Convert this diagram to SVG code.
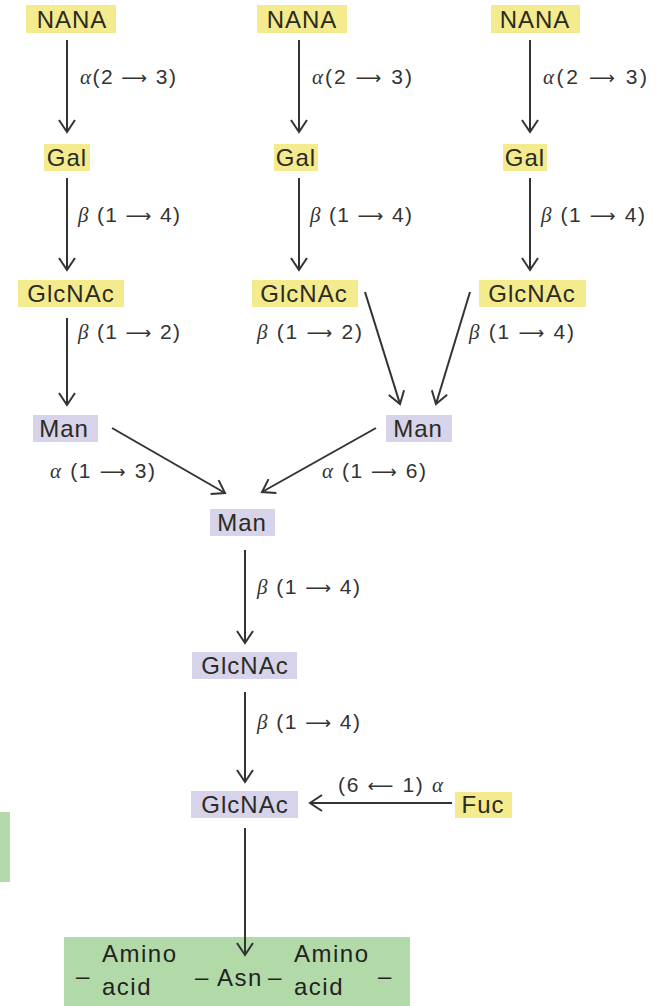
<svg xmlns="http://www.w3.org/2000/svg" width="672" height="1006" viewBox="0 0 672 1006">
<style>
.y{fill:#f4ea8e}
.p{fill:#d7d3ea}
.g{fill:#b2daa9}
.n{font-family:"Liberation Sans",Arial,sans-serif;font-size:24px;fill:#2b2b22;text-anchor:middle;letter-spacing:1px}
.l{font-family:"Liberation Sans",Arial,sans-serif;font-size:21px;fill:#333}
.gr{font-family:"Liberation Serif",serif;font-style:italic}
.ar{font-family:"DejaVu Sans",sans-serif;font-size:18px}
.c{stroke:#333;stroke-width:2;fill:none}
.a{font-family:"Liberation Sans",Arial,sans-serif;font-size:24px;fill:#222;letter-spacing:1.5px}
</style>
<defs>
<marker id="ah" markerUnits="userSpaceOnUse" markerWidth="16" markerHeight="18" refX="13" refY="9" orient="auto" viewBox="0 0 16 18">
<path d="M1,1 L13,9 L1,17" fill="none" stroke="#333" stroke-width="2"/>
</marker>
</defs>
<rect x="0" y="812" width="10" height="70" class="g"/>
<g id="connectors">
<line class="c" x1="67" y1="40" x2="67" y2="132" marker-end="url(#ah)"/>
<line class="c" x1="299" y1="40" x2="299" y2="132" marker-end="url(#ah)"/>
<line class="c" x1="530" y1="40" x2="530" y2="132" marker-end="url(#ah)"/>
<line class="c" x1="67" y1="178" x2="67" y2="270" marker-end="url(#ah)"/>
<line class="c" x1="299" y1="178" x2="299" y2="270" marker-end="url(#ah)"/>
<line class="c" x1="530" y1="178" x2="530" y2="270" marker-end="url(#ah)"/>
<line class="c" x1="67" y1="318" x2="67" y2="405" marker-end="url(#ah)"/>
<line class="c" x1="365" y1="292" x2="400" y2="404" marker-end="url(#ah)"/>
<line class="c" x1="470" y1="292" x2="436" y2="404" marker-end="url(#ah)"/>
<line class="c" x1="112" y1="428" x2="225" y2="493" marker-end="url(#ah)"/>
<line class="c" x1="376" y1="428" x2="262" y2="492" marker-end="url(#ah)"/>
<line class="c" x1="245" y1="550" x2="245" y2="643" marker-end="url(#ah)"/>
<line class="c" x1="245" y1="692" x2="245" y2="782" marker-end="url(#ah)"/>
<line class="c" x1="452" y1="803" x2="310" y2="803" marker-end="url(#ah)"/>
<g id="link-labels">
<text class="l" x="80" y="84" textLength="96" lengthAdjust="spacing"><tspan class="gr">α</tspan>(2 <tspan class="ar">⟶</tspan> 3)</text>
<text class="l" x="312" y="84" textLength="100" lengthAdjust="spacing"><tspan class="gr">α</tspan>(2 <tspan class="ar">⟶</tspan> 3)</text>
<text class="l" x="543" y="84" textLength="104" lengthAdjust="spacing"><tspan class="gr">α</tspan>(2 <tspan class="ar">⟶</tspan> 3)</text>
<text class="l" x="78" y="222" textLength="102" lengthAdjust="spacing"><tspan class="gr">β</tspan> (1 <tspan class="ar">⟶</tspan> 4)</text>
<text class="l" x="310" y="222" textLength="102" lengthAdjust="spacing"><tspan class="gr">β</tspan> (1 <tspan class="ar">⟶</tspan> 4)</text>
<text class="l" x="541" y="222" textLength="104" lengthAdjust="spacing"><tspan class="gr">β</tspan> (1 <tspan class="ar">⟶</tspan> 4)</text>
<text class="l" x="78" y="339" textLength="102" lengthAdjust="spacing"><tspan class="gr">β</tspan> (1 <tspan class="ar">⟶</tspan> 2)</text>
<text class="l" x="257" y="339" textLength="105" lengthAdjust="spacing"><tspan class="gr">β</tspan> (1 <tspan class="ar">⟶</tspan> 2)</text>
<text class="l" x="469" y="339" textLength="105" lengthAdjust="spacing"><tspan class="gr">β</tspan> (1 <tspan class="ar">⟶</tspan> 4)</text>
<text class="l" x="50" y="478" textLength="105" lengthAdjust="spacing"><tspan class="gr">α</tspan> (1 <tspan class="ar">⟶</tspan> 3)</text>
<text class="l" x="322" y="478" textLength="104" lengthAdjust="spacing"><tspan class="gr">α</tspan> (1 <tspan class="ar">⟶</tspan> 6)</text>
<text class="l" x="257" y="594" textLength="103" lengthAdjust="spacing"><tspan class="gr">β</tspan> (1 <tspan class="ar">⟶</tspan> 4)</text>
<text class="l" x="257" y="729" textLength="103" lengthAdjust="spacing"><tspan class="gr">β</tspan> (1 <tspan class="ar">⟶</tspan> 4)</text>
<text class="l" x="338" y="792" textLength="105" lengthAdjust="spacing">(6 <tspan class="ar">⟵</tspan> 1) <tspan class="gr">α</tspan></text>
</g>
</g>
<g id="nana1"><rect class="y" x="26" y="5" width="90" height="28"/><text class="n" x="72" y="28">NANA</text></g>
<g id="nana2"><rect class="y" x="257" y="5" width="90" height="28"/><text class="n" x="302" y="28">NANA</text></g>
<g id="nana3"><rect class="y" x="491" y="5" width="89" height="28"/><text class="n" x="535" y="28">NANA</text></g>
<g id="gal1"><rect class="y" x="44" y="144" width="46" height="27"/><text class="n" x="67" y="166">Gal</text></g>
<g id="gal2"><rect class="y" x="274" y="144" width="44" height="27"/><text class="n" x="296" y="166">Gal</text></g>
<g id="gal3"><rect class="y" x="503" y="144" width="44" height="27"/><text class="n" x="525" y="166">Gal</text></g>
<g id="glcnac1"><rect class="y" x="18" y="280" width="106" height="27"/><text class="n" x="71" y="302">GlcNAc</text></g>
<g id="glcnac2"><rect class="y" x="252" y="280" width="106" height="27"/><text class="n" x="304" y="302">GlcNAc</text></g>
<g id="glcnac3"><rect class="y" x="479" y="280" width="107" height="27"/><text class="n" x="532" y="302">GlcNAc</text></g>
<g id="man1"><rect class="p" x="33" y="415" width="65" height="27"/><text class="n" x="64" y="437">Man</text></g>
<g id="man2"><rect class="p" x="386" y="415" width="66" height="27"/><text class="n" x="418" y="437">Man</text></g>
<g id="man3"><rect class="p" x="210" y="509" width="65" height="27"/><text class="n" x="242" y="531">Man</text></g>
<g id="glcnac4"><rect class="p" x="192" y="652" width="105" height="27"/><text class="n" x="245" y="674">GlcNAc</text></g>
<g id="glcnac5"><rect class="p" x="191" y="791" width="107" height="27"/><text class="n" x="245" y="813">GlcNAc</text></g>
<g id="fuc"><rect class="y" x="455" y="792" width="57" height="26"/><text class="n" x="483" y="813">Fuc</text></g>
<g id="peptide">
<rect class="g" x="64" y="937" width="346" height="69"/>
<text class="a" x="76" y="984">–</text>
<text class="a" x="102" y="962">Amino</text>
<text class="a" x="102" y="995">acid</text>
<text class="a" x="195" y="985">–</text>
<text class="a" x="217" y="986" letter-spacing="0">Asn</text>
<text class="a" x="268" y="985">–</text>
<text class="a" x="294" y="962">Amino</text>
<text class="a" x="294" y="995">acid</text>
<text class="a" x="378" y="984">–</text>
</g>
<line class="c" x1="245" y1="828" x2="245" y2="955" marker-end="url(#ah)"/>
</svg>
